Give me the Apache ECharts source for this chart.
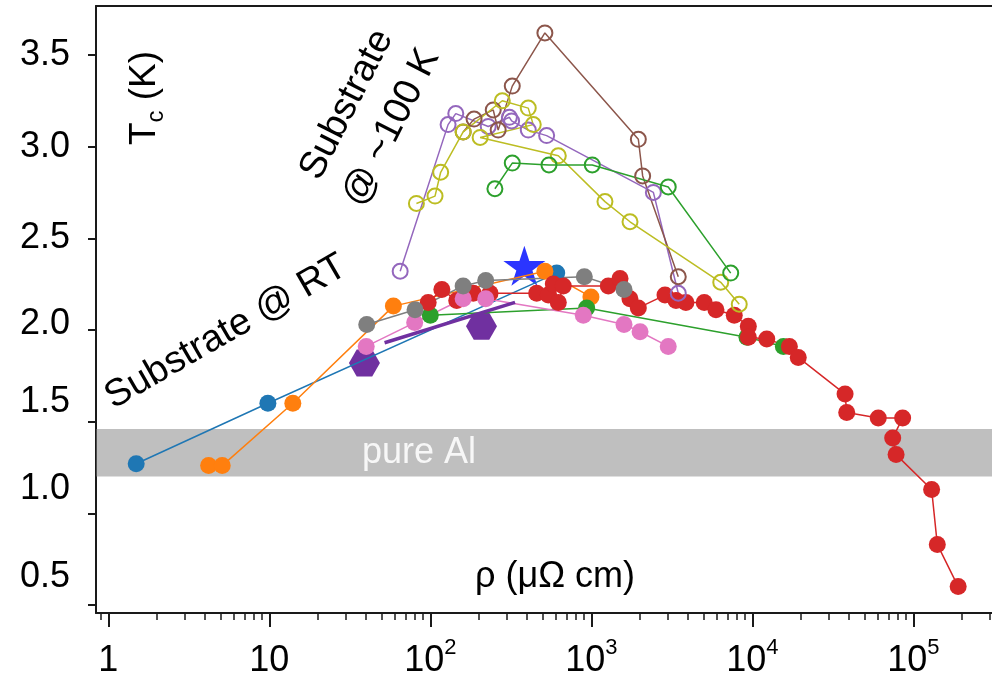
<!DOCTYPE html>
<html>
<head>
<meta charset="utf-8">
<script src="https://cdn.jsdelivr.net/npm/echarts@6/dist/echarts.min.js"></script>
<style>
  html, body { margin: 0; padding: 0; background: #fff; }
  #chart { width: 992px; height: 682px; }
</style>
</head>
<body>
<div id="chart"></div>
<script>
// Resistivity rho (µΩ cm) and critical temperature Tc (K) per sample set.

// Films grown with the substrate at room temperature (filled markers)
const rtBlueRho = [1.49, 9.8, 610];
const rtBlueTc = [1.27, 1.60, 2.31];

const rtOrangeRho = [4.2, 5.1, 14.0, 59, 515, 995];
const rtOrangeTc = [1.26, 1.26, 1.60, 2.13, 2.32, 2.18];

const rtGreenRho = [100, 936, 9270, 15600];
const rtGreenTc = [2.08, 2.12, 1.96, 1.91];

const rtRedRho = [97, 118, 146, 185, 235, 458, 541, 581, 624, 670, 1276, 1508, 1738, 1959,
  2870, 3360, 3870, 5030, 5950, 7730, 9450, 9450, 12300, 17000, 19300, 37700, 38600,
  60600, 85900, 74500, 78200, 130000, 141000, 190000];
const rtRedTc = [2.15, 2.22, 2.16, 2.20, 2.20, 2.20, 2.19, 2.25, 2.15, 2.24, 2.24, 2.28, 2.17, 2.12,
  2.19, 2.16, 2.15, 2.15, 2.11, 2.08, 2.02, 1.96, 1.95, 1.91, 1.85, 1.65, 1.55,
  1.52, 1.52, 1.41, 1.32, 1.13, 0.83, 0.60];

const rtPinkRho = [40, 80, 160, 221, 892, 1597, 2009, 3006];
const rtPinkTc = [1.91, 2.04, 2.17, 2.17, 2.08, 2.03, 1.99, 1.91];

const rtGrayRho = [40.3, 80.4, 160, 221, 905, 1597];
const rtGrayTc = [2.03, 2.11, 2.24, 2.27, 2.29, 2.22];

const hexRho = [39, 208];
const hexTc = [1.82, 2.02];

const trendRho = [52, 336];
const trendTc = [1.93, 2.15];

const starRho = [384];
const starTc = [2.35];

// Films grown with the substrate at ~100 K (open markers)
const coldPurpleRho = [65, 129, 144, 229, 310, 320, 406, 528, 2430, 3470];
const coldPurpleTc = [2.32, 3.12, 3.18, 3.11, 3.16, 3.14, 3.09, 3.06, 2.75, 2.20];

const coldBrownRho = [160, 187, 246, 264, 323, 515, 1960, 2085, 3470];
const coldBrownTc = [3.08, 3.15, 3.20, 3.09, 3.33, 3.62, 3.04, 2.84, 2.29];

const coldOliveRho = [82, 107, 116, 160, 280, 406, 436, 204, 624, 1216, 1740, 6370, 8300];
const coldOliveTc = [2.69, 2.73, 2.86, 3.08, 3.25, 3.21, 3.12, 3.05, 2.95, 2.70, 2.59, 2.26, 2.14];

const coldGreenRho = [252, 323, 546, 1014, 3006, 7345];
const coldGreenTc = [2.77, 2.91, 2.90, 2.90, 2.78, 2.31];

// Pure aluminium Tc band
const pureAlBand = [1.20, 1.46];

// Axis ticks
const xMajorTicks = [1, 10, 100, 1000, 10000, 100000];
const xMinorTicks = [0.9, 2, 3, 4, 5, 6, 7, 8, 9, 20, 30, 40, 50, 60, 70, 80, 90,
  200, 300, 400, 500, 600, 700, 800, 900, 2000, 3000, 4000, 5000, 6000, 7000, 8000, 9000,
  20000, 30000, 40000, 50000, 60000, 70000, 80000, 90000, 200000, 300000];
const yTicks = [0.5, 1.0, 1.5, 2.0, 2.5, 3.0, 3.5];

const FONT = '"Liberation Sans", Arial, Helvetica, sans-serif';
const X_MIN = 0.8387;
const X_MAX = 308300;
const Y_MIN = 0.456;
const Y_MAX = 3.767;
const SPINE = '#1a1a1a';

const zip = (a, b) => a.map((v, i) => [v, b[i]]);

const filled = (rho, tc, color) => ({
  type: 'line',
  data: zip(rho, tc),
  symbol: 'circle',
  symbolSize: 17,
  showAllSymbol: true,
  lineStyle: { color: color, width: 1.5 },
  itemStyle: { color: color, opacity: 1 },
  emphasis: { disabled: true }
});

const hollow = (rho, tc, color) => ({
  type: 'line',
  data: zip(rho, tc),
  symbol: 'circle',
  symbolSize: 15,
  showAllSymbol: true,
  lineStyle: { color: color, width: 1.5 },
  itemStyle: { color: 'rgba(0,0,0,0)', borderColor: color, borderWidth: 2 },
  emphasis: { disabled: true }
});

const HEXAGON = 'path://M-1,0 L-0.5,-0.866 L0.5,-0.866 L1,0 L0.5,0.866 L-0.5,0.866 Z';
const STAR = 'path://M0,-1 L0.2245,-0.309 L0.951,-0.309 L0.363,0.118 L0.588,0.809 L0,0.382 ' +
  'L-0.588,0.809 L-0.363,0.118 L-0.951,-0.309 L-0.2245,-0.309 Z';

// Lift of the lower y tick labels, in px (these labels sit slightly above their ticks)
const yLabelLift = { '0.5': 28, '1.0': 24, '1.5': 20, '2.0': 6, '2.5': 0, '3.0': 0, '3.5': 0 };
const yRich = {};
Object.keys(yLabelLift).forEach((k, i) => {
  yRich['t' + i] = {
    fontSize: 36, fontFamily: FONT, color: '#000',
    padding: [0, 0, yLabelLift[k] * 2, 0]
  };
});

const chart = echarts.init(document.getElementById('chart'), null, { renderer: 'canvas' });

chart.setOption({
  animation: false,
  backgroundColor: '#fff',
  grid: { left: 96, top: 6, right: 0, bottom: 69 },
  xAxis: [
    {
      type: 'log', logBase: 10, min: X_MIN, max: X_MAX,
      axisLine: { show: true, lineStyle: { color: SPINE, width: 2 } },
      axisTick: { show: true, customValues: xMajorTicks, length: 14, lineStyle: { color: SPINE, width: 2 } },
      axisLabel: {
        customValues: xMajorTicks,
        margin: 24,
        formatter: (v) => {
          const e = Math.round(Math.log10(v));
          if (e === 0) return '{b|1}';
          if (e === 1) return '{b|10}';
          return '{b|10}{s|' + e + '}';
        },
        rich: {
          b: { fontSize: 36, fontFamily: FONT, color: '#000', lineHeight: 42, verticalAlign: 'bottom' },
          s: { fontSize: 22, fontFamily: FONT, color: '#000', lineHeight: 22, verticalAlign: 'top' }
        }
      },
      splitLine: { show: false },
      minorTick: { show: false }
    },
    {
      // minor decade ticks
      type: 'log', logBase: 10, min: X_MIN, max: X_MAX, position: 'bottom',
      axisLine: { show: false },
      axisTick: { show: true, customValues: xMinorTicks, length: 7, lineStyle: { color: SPINE, width: 1.5 } },
      axisLabel: { show: false },
      splitLine: { show: false }
    },
    {
      // top frame line
      type: 'log', logBase: 10, min: X_MIN, max: X_MAX, position: 'top',
      axisLine: { show: true, lineStyle: { color: SPINE, width: 2 } },
      axisTick: { show: false },
      axisLabel: { show: false },
      splitLine: { show: false }
    }
  ],
  yAxis: {
    type: 'value', min: Y_MIN, max: Y_MAX,
    axisLine: { show: true, lineStyle: { color: SPINE, width: 2 } },
    axisTick: { show: true, customValues: yTicks, length: 8, lineStyle: { color: SPINE, width: 2 } },
    axisLabel: {
      customValues: yTicks,
      margin: 26,
      formatter: (v) => {
        const k = v.toFixed(1);
        const idx = Object.keys(yLabelLift).indexOf(k);
        return '{t' + idx + '|' + k + '}';
      },
      rich: yRich
    },
    splitLine: { show: false }
  },
  series: [
    filled(rtBlueRho, rtBlueTc, '#1f77b4'),
    filled(rtOrangeRho, rtOrangeTc, '#ff7f0e'),
    filled(rtGreenRho, rtGreenTc, '#2ca02c'),
    filled(rtRedRho, rtRedTc, '#d62728'),
    filled(rtPinkRho, rtPinkTc, '#e377c2'),
    filled(rtGrayRho, rtGrayTc, '#7f7f7f'),
    hollow(coldPurpleRho, coldPurpleTc, '#9467bd'),
    hollow(coldBrownRho, coldBrownTc, '#8c564b'),
    hollow(coldOliveRho, coldOliveTc, '#bcbd22'),
    hollow(coldGreenRho, coldGreenTc, '#2ca02c'),
    {
      type: 'line',
      data: zip(trendRho, trendTc),
      symbol: 'none',
      lineStyle: { color: '#7030a0', width: 3.5 },
      emphasis: { disabled: true }
    },
    {
      type: 'scatter',
      data: zip(hexRho, hexTc),
      symbol: HEXAGON,
      symbolSize: [31, 27],
      itemStyle: { color: '#7030a0', opacity: 1 },
      emphasis: { disabled: true }
    },
    {
      type: 'scatter',
      data: zip(starRho, starTc),
      symbol: STAR,
      symbolSize: [42, 40],
      itemStyle: { color: '#2b35ff', opacity: 1 },
      emphasis: { disabled: true }
    },
    {
      // translucent band for bulk aluminium, drawn above the markers
      type: 'line',
      data: [],
      z: 5,
      markArea: {
        silent: true,
        itemStyle: { color: 'rgba(127,127,127,0.5)' },
        label: {
          show: true,
          position: [266, '50%'],
          align: 'left',
          verticalAlign: 'middle',
          color: '#f7f7f7',
          fontSize: 36,
          fontFamily: FONT,
          formatter: 'pure Al'
        },
        data: [[{ yAxis: pureAlBand[0] }, { yAxis: pureAlBand[1] }]]
      }
    }
  ],
  graphic: [
    {
      type: 'text',
      x: 147, y: 98,
      rotation: Math.PI / 2,
      style: {
        text: '{a|T}{b|c}{a| (K)}',
        align: 'center', verticalAlign: 'middle',
        rich: {
          a: { fontSize: 37, fontFamily: FONT, fill: '#000', lineHeight: 42, verticalAlign: 'top' },
          b: { fontSize: 24, fontFamily: FONT, fill: '#000', lineHeight: 42, verticalAlign: 'bottom' }
        }
      }
    },
    {
      type: 'text',
      x: 555, y: 577,
      style: {
        text: 'ρ (μΩ cm)',
        align: 'center', verticalAlign: 'middle',
        fontSize: 36, fontFamily: FONT, fill: '#000'
      }
    },
    {
      type: 'text',
      x: 369, y: 116,
      rotation: 63 * Math.PI / 180,
      style: {
        text: 'Substrate\n@ ~100 K',
        align: 'center', verticalAlign: 'middle',
        fontSize: 38, lineHeight: 50, fontFamily: FONT, fill: '#000'
      }
    },
    {
      type: 'text',
      x: 226, y: 332,
      rotation: 30 * Math.PI / 180,
      style: {
        text: 'Substrate @ RT',
        align: 'center', verticalAlign: 'middle',
        fontSize: 38, fontFamily: FONT, fill: '#000'
      }
    }
  ]
});
</script>
</body>
</html>
